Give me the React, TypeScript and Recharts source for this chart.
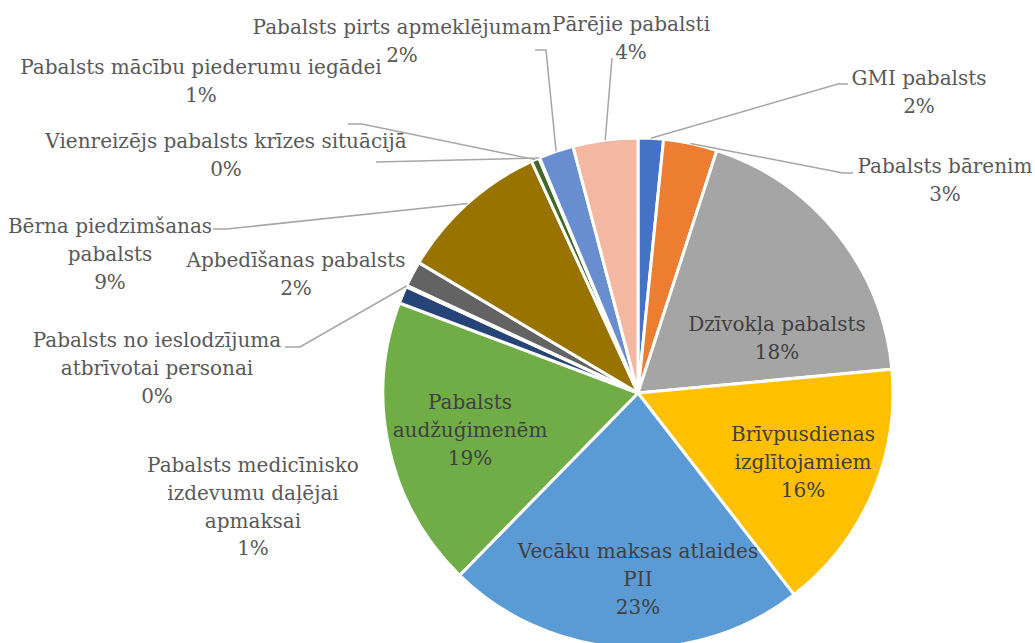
import React from 'react';
import { PieChart, Pie, Cell } from 'recharts';

const categories = [
  'GMI pabalsts',
  'Pabalsts bārenim',
  'Dzīvokļa pabalsts',
  'Brīvpusdienas izglītojamiem',
  'Vecāku maksas atlaides PII',
  'Pabalsts audžuģimenēm',
  'Pabalsts medicīnisko izdevumu daļējai apmaksai',
  'Pabalsts no ieslodzījuma atbrīvotai personai',
  'Apbedīšanas pabalsts',
  'Bērna piedzimšanas pabalsts',
  'Pabalsts mācību piederumu iegādei',
  'Vienreizējs pabalsts krīzes situācijā',
  'Pabalsts pirts apmeklējumam',
  'Pārējie pabalsti',
];
const values = [1.6, 3.4, 18.5, 16.0, 22.8, 18.4, 1.1, 0.1, 1.6, 9.6, 0.5, 0.05, 2.2, 4.1];
const percentLabels = ['2%', '3%', '18%', '16%', '23%', '19%', '1%', '0%', '2%', '9%', '1%', '0%', '2%', '4%'];
const colors = [
  '#4472C4', '#ED7D31', '#A5A5A5', '#FFC000', '#5B9BD5', '#70AD47', '#264478',
  '#9E480E', '#636363', '#997300', '#43682B', '#255E91', '#698ED0', '#F4B8A2',
];

const data = categories.map((name, i) => ({ name, value: values[i] }));

// label placement: text centre, words per line, optional leader elbow points
type LabelPos = { x: number; y: number; wrap: number[]; inside?: boolean; leader?: [number, number][] };
const labelLayout: LabelPos[] = [
  { x: 919, y: 78, wrap: [2], leader: [[848, 84], [838, 84]] },
  { x: 945, y: 166, wrap: [2], leader: [[853, 173], [843, 173]] },
  { x: 777, y: 324, wrap: [2], inside: true },
  { x: 803, y: 434, wrap: [1, 1], inside: true },
  { x: 638, y: 551, wrap: [3, 1], inside: true },
  { x: 470, y: 402, wrap: [1, 1], inside: true },
  { x: 253, y: 465, wrap: [2, 2, 1] },
  { x: 157, y: 340, wrap: [3, 2], leader: [[285, 347], [300, 347]] },
  { x: 296, y: 260, wrap: [2] },
  { x: 110, y: 226, wrap: [2, 1], leader: [[213, 229], [227, 229]] },
  { x: 201, y: 67, wrap: [4], leader: [[348, 124], [362, 124]] },
  { x: 226, y: 141, wrap: [4], leader: [[376, 162]] },
  { x: 402, y: 27, wrap: [4], leader: [[535, 50], [546, 50]] },
  { x: 631, y: 24, wrap: [2], leader: [[612, 58]] },
];

const RAD = Math.PI / 180;
const LINE_H = 27.8;

function splitLines(name: string, wrap: number[]) {
  const words = name.split(' ');
  const out: string[] = [];
  let k = 0;
  wrap.forEach((n) => {
    out.push(words.slice(k, k + n).join(' '));
    k += n;
  });
  return out;
}

const renderLabel = (props: any) => {
  const { cx, cy, midAngle, outerRadius, index } = props;
  const pos = labelLayout[index];
  const lines = [...splitLines(categories[index], pos.wrap), percentLabels[index]];
  let leader = null;
  if (pos.leader) {
    const ex = cx + outerRadius * Math.cos(-midAngle * RAD);
    const ey = cy + outerRadius * Math.sin(-midAngle * RAD);
    const pts = [...pos.leader, [ex, ey]].map((p) => p.join(',')).join(' ');
    leader = <polyline points={pts} fill="none" stroke="#A6A6A6" strokeWidth={1.5} />;
  }
  return (
    <g key={`lbl-${index}`}>
      {leader}
      {lines.map((t, j) => (
        <text
          key={j}
          x={pos.x}
          y={pos.y + j * LINE_H}
          textAnchor="middle"
          dominantBaseline="central"
          fill={pos.inside ? '#404040' : '#595959'}
          fontSize={20}
          fontFamily="'DejaVu Serif', serif"
        >
          {t}
        </text>
      ))}
    </g>
  );
};

export default function App() {
  return (
    <div style={{ position: 'absolute', left: 0, top: 0, width: 1035, height: 643, background: '#fff' }}>
      <PieChart width={1035} height={643} margin={{ top: 0, right: 0, bottom: 0, left: 0 }}>
        <Pie
          data={data}
          dataKey="value"
          nameKey="name"
          cx={638}
          cy={393}
          outerRadius={255}
          startAngle={90}
          endAngle={-270}
          stroke="#FFFFFF"
          strokeWidth={3}
          label={renderLabel}
          labelLine={false}
          isAnimationActive={false}
        >
          {data.map((d, i) => (
            <Cell key={d.name} fill={colors[i]} />
          ))}
        </Pie>
      </PieChart>
    </div>
  );
}
